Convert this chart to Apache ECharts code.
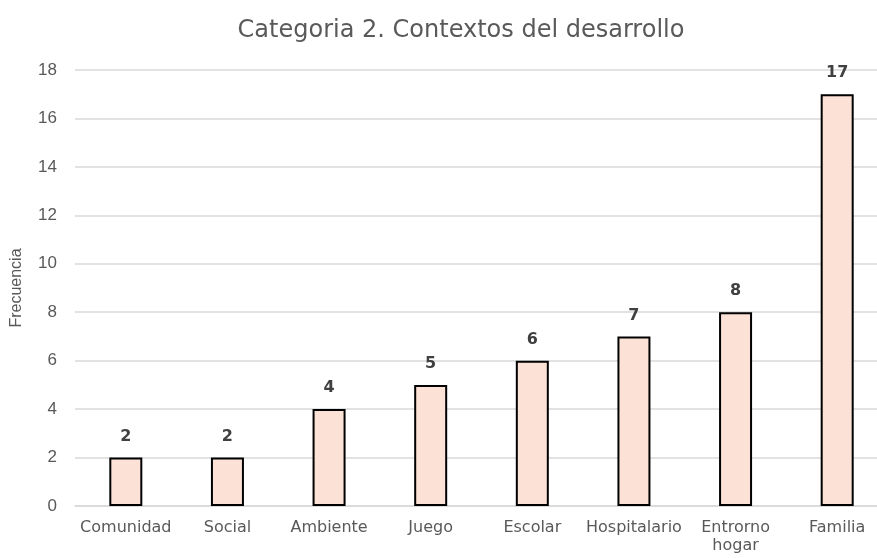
<!DOCTYPE html>
<html><head><meta charset="utf-8">
<script src="https://cdn.jsdelivr.net/npm/echarts@6/dist/echarts.min.js"></script>
<style>html,body{margin:0;padding:0;background:#fff}#c{width:877px;height:558px}</style>
</head><body><div id="c"></div>
<script>
const categories = ['Comunidad','Social','Ambiente','Juego','Escolar','Hospitalario','Entrorno\nhogar','Familia'];
const values = [2,2,4,5,6,7,8,17];
const yTicks = [0,2,4,6,8,10,12,14,16,18];
const title = 'Categoria 2. Contextos del desarrollo';
const yName = 'Frecuencia';

const chart = echarts.init(document.getElementById('c'));
chart.setOption({
  animation:false,
  title:{text:title,left:456,top:14,textAlign:'center',textStyle:{fontFamily:'DejaVu Sans',fontSize:24,fontWeight:'normal',color:'#595959'}},
  grid:{left:75,width:813,top:70,bottom:52,outerBoundsMode:'none',containLabel:false},
  xAxis:{type:'category',data:categories,axisTick:{show:false},
    axisLine:{lineStyle:{color:'#d9d9d9',width:1.5}},
    axisLabel:{fontFamily:'DejaVu Sans',fontSize:16,color:'#595959',margin:13,lineHeight:18,interval:0}},
  yAxis:{type:'value',min:yTicks[0],max:yTicks[yTicks.length-1],interval:2,
    name:yName,nameLocation:'middle',nameGap:50,nameTextStyle:{fontFamily:'Liberation Sans',fontSize:16,color:'#595959'},
    axisLine:{show:false},axisTick:{show:false},
    splitLine:{lineStyle:{color:'#d9d9d9',width:1.5}},
    axisLabel:{fontFamily:'Liberation Sans',fontSize:17,color:'#595959',margin:18}},
  series:[{type:'bar',data:values,barWidth:33,
    itemStyle:{color:'#fbe1d6',borderColor:'#000',borderWidth:2},
    label:{show:true,position:'top',distance:13,fontFamily:'DejaVu Sans',fontSize:16,fontWeight:'bold',color:'#404040'}}]
});
</script></body></html>
